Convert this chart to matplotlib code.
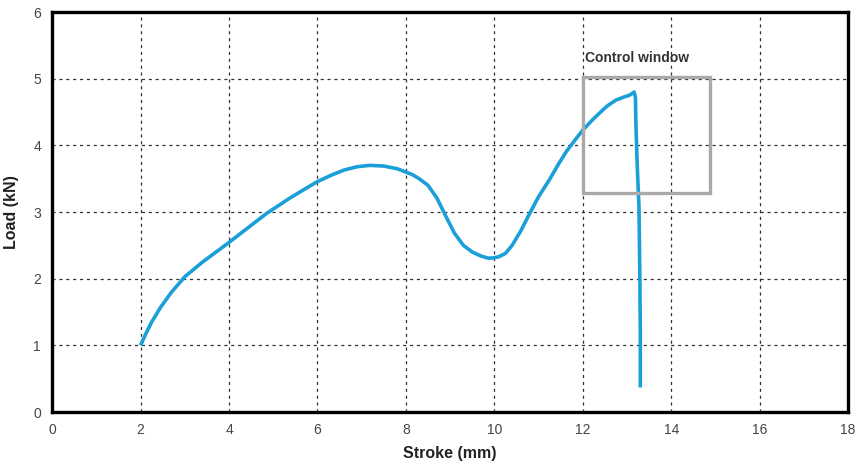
import numpy as np
import matplotlib
matplotlib.use("Agg")
import matplotlib.pyplot as plt
from matplotlib.patches import Rectangle

# load-stroke curve
stroke = [2.0, 2.1, 2.25, 2.45, 2.7, 3.0, 3.4, 3.97, 4.4, 4.85, 5.4, 5.98, 6.3, 6.6, 6.9, 7.18,
          7.5, 7.8, 8.0, 8.15, 8.3, 8.5, 8.7, 8.9, 9.1, 9.3, 9.5, 9.7, 9.85, 9.95, 10.1, 10.25,
          10.4, 10.6, 10.79, 11.0, 11.24, 11.45, 11.62, 11.8, 12.0, 12.2, 12.37, 12.55, 12.75,
          12.95, 13.05, 13.12, 13.16, 13.19, 13.2, 13.23, 13.27, 13.29, 13.3, 13.3]
load = [1.0, 1.15, 1.35, 1.57, 1.8, 2.03, 2.25, 2.53, 2.75, 2.98, 3.22, 3.45, 3.55, 3.63, 3.68, 3.70,
        3.69, 3.65, 3.60, 3.56, 3.50, 3.40, 3.21, 2.94, 2.68, 2.50, 2.40, 2.34, 2.31, 2.31, 2.33, 2.38,
        2.50, 2.72, 2.97, 3.23, 3.48, 3.72, 3.90, 4.06, 4.23, 4.37, 4.48, 4.59, 4.68,
        4.73, 4.75, 4.78, 4.80, 4.72, 4.33, 3.7, 3.07, 2.0, 1.2, 0.37]

win_x = [12.0, 14.88]
win_y = [3.28, 5.02]

font = ['Liberation Sans', 'DejaVu Sans']
plt.rcParams['font.family'] = font

fig = plt.figure(figsize=(8.55,4.62), dpi=100)
ax = fig.add_axes([0.061, 0.108, 0.931, 0.866])

ax.plot(stroke, load, color='#1a9fd9', lw=2.6, solid_capstyle='butt', solid_joinstyle='round', zorder=3)

ax.add_patch(Rectangle((win_x[0], win_y[0]), win_x[1]-win_x[0], win_y[1]-win_y[0],
                       fill=False, edgecolor='#a9a9a9', lw=2.4, zorder=4))
ax.text(12.05, 5.2, 'Control window', fontweight='bold', fontsize=10,
        color='#333333', va='bottom', ha='left')

ax.set_xlim(0,18)
ax.set_ylim(0,6)
ax.set_xticks(np.arange(0,19,2))
ax.set_yticks(np.arange(0,7,1))
ax.grid(True, color='#333333', ls=(0,(2.5,3)), lw=0.9)
ax.tick_params(length=0, labelsize=10, colors='#444444', pad=8)
for s in ax.spines.values():
    s.set_linewidth(2.4)
    s.set_color('black')

ax.set_xlabel('Stroke (mm)', fontweight='bold', fontsize=11.5, color='#222222', labelpad=6)
ax.set_ylabel('Load (kN)', fontweight='bold', fontsize=11.5, color='#222222', labelpad=10)

plt.savefig('out.png', dpi=100)
